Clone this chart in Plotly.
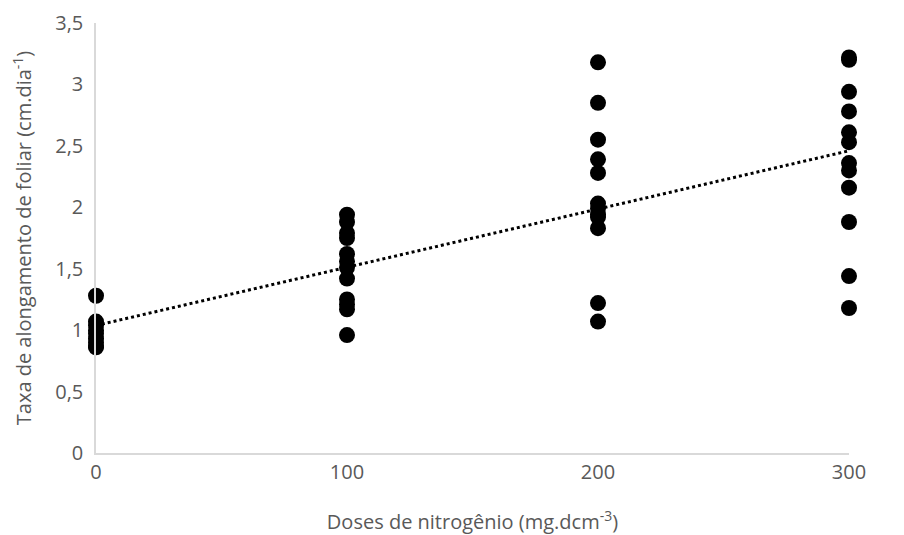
import numpy as np
import plotly.graph_objects as go

dose_0 = [1.28, 1.07, 1.04, 1.00, 0.97, 0.93, 0.90, 0.87, 0.86]
dose_100 = [1.94, 1.88, 1.79, 1.75, 1.62, 1.56, 1.51, 1.42, 1.25, 1.21, 1.17, 0.96]
dose_200 = [3.18, 2.85, 2.55, 2.39, 2.28, 2.03, 1.99, 1.94, 1.92, 1.83, 1.22, 1.07]
dose_300 = [3.22, 3.20, 2.94, 2.78, 2.61, 2.53, 2.36, 2.30, 2.16, 1.88, 1.44, 1.18]
doses = [0, 100, 200, 300]

xs, ys = [], []
for d, vals in zip(doses, [dose_0, dose_100, dose_200, dose_300]):
    xs += [d] * len(vals)
    ys += vals

slope, intercept = np.polyfit(xs, ys, 1)
xfit = np.array([0, 300])
yfit = intercept + slope * xfit

fig = go.Figure()
fig.add_trace(go.Scatter(x=xs, y=ys, mode="markers",
                         marker=dict(color="black", size=16),
                         cliponaxis=False, showlegend=False))
fig.add_trace(go.Scatter(x=xfit, y=yfit, mode="lines",
                         line=dict(color="black", width=3, dash="dot"),
                         cliponaxis=False, showlegend=False))

# page body has an 8px default margin; compensate so the plot lands where it should
fig.update_layout(
    width=896, height=527,
    margin=dict(l=88, r=55, t=15, b=82),
    paper_bgcolor="white", plot_bgcolor="white",
    separators=",.",
    font=dict(family="Open Sans, Liberation Sans, sans-serif", color="#595959", size=20),
    xaxis=dict(range=[0, 300], tickvals=doses, showgrid=False, zeroline=False,
               showline=True, linecolor="#d9d9d9", linewidth=1.5,
               ticks="", ticklabelstandoff=0, automargin=False,
               title=dict(text="Doses de nitrogênio (mg.dcm<sup>-3</sup>)", font=dict(size=20), standoff=41)),
    yaxis=dict(range=[0, 3.5], dtick=0.5, showgrid=False, zeroline=False,
               showline=True, linecolor="#d9d9d9", linewidth=1.5,
               ticks="", ticklabelstandoff=7, automargin=False,
               title=dict(text="Taxa de alongamento de foliar (cm.dia<sup>-1</sup>)", font=dict(size=20), standoff=23)),
)

fig.write_html("out.html")
